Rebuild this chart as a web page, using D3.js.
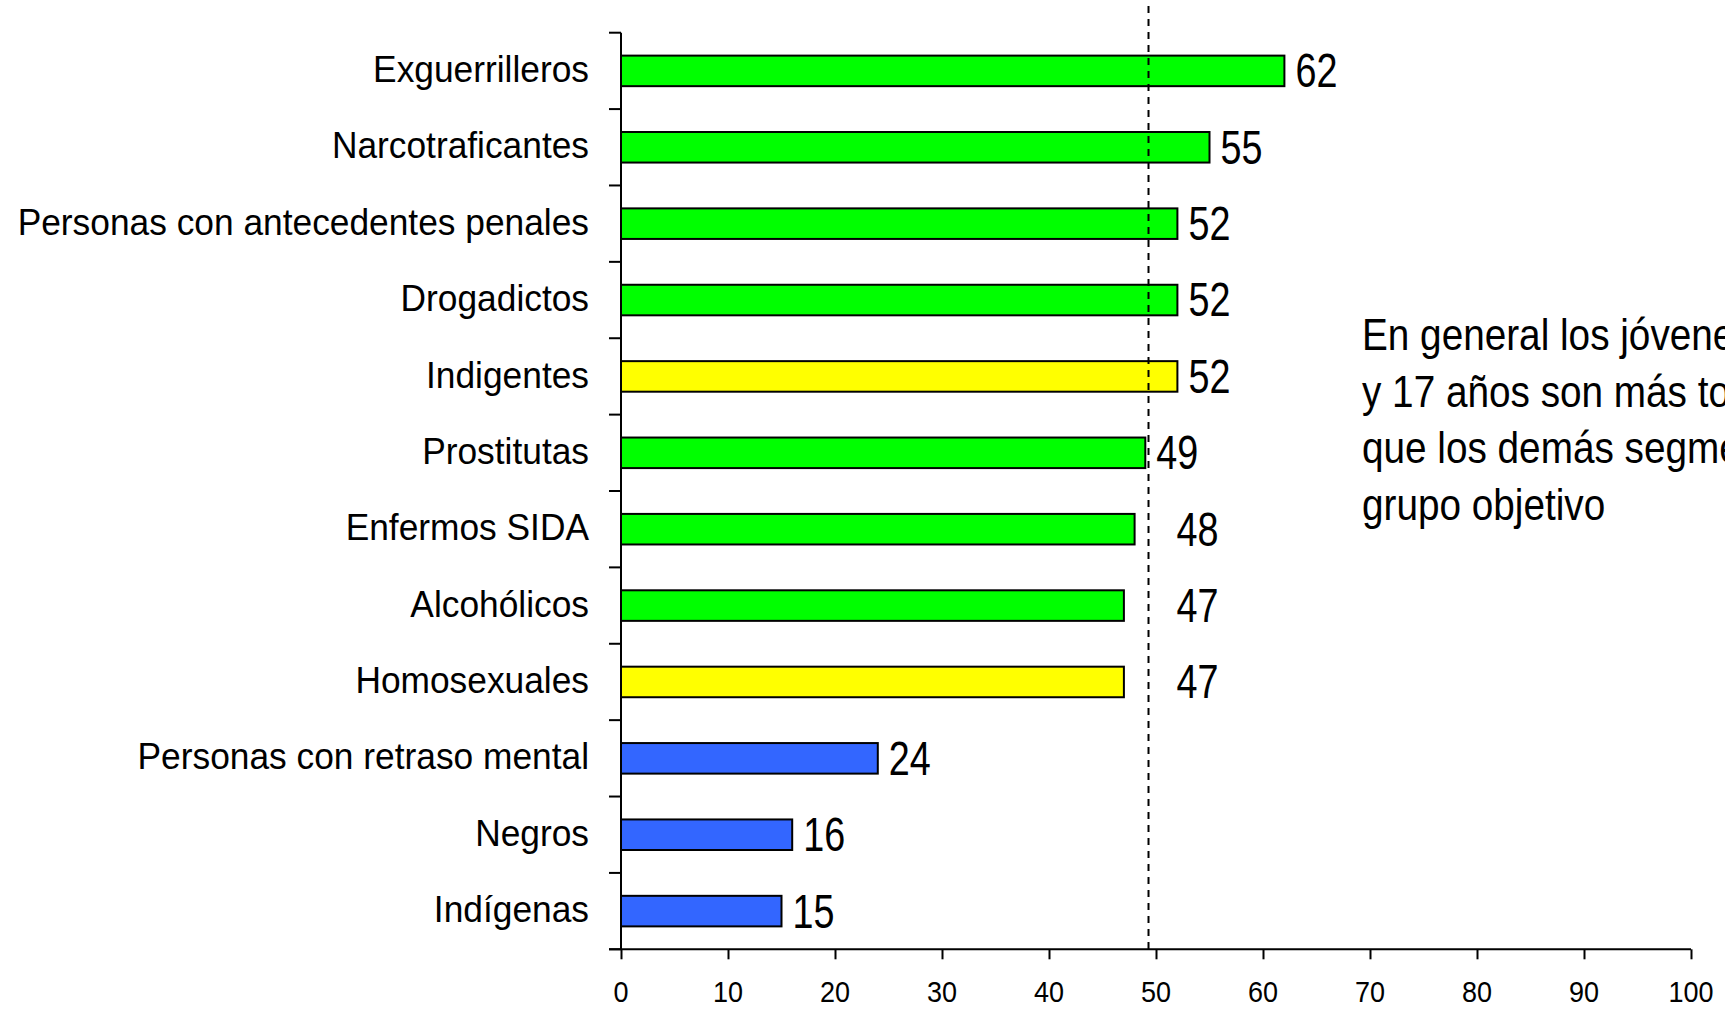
<!DOCTYPE html>
<html>
<head>
<meta charset="utf-8">
<script src="https://cdn.jsdelivr.net/npm/d3@7"></script>
<style>
  html, body { margin: 0; padding: 0; background: #fff; overflow: hidden; }
  svg { display: block; font-family: "Liberation Sans", Arial, sans-serif; }
</style>
</head>
<body>
<svg id="chart" width="1725" height="1009"></svg>
<script>
// datos
const categorias = [
  "Exguerrilleros", "Narcotraficantes", "Personas con antecedentes penales",
  "Drogadictos", "Indigentes", "Prostitutas", "Enfermos SIDA", "Alcohólicos",
  "Homosexuales", "Personas con retraso mental", "Negros", "Indígenas"
];
const valores = [62, 55, 52, 52, 52, 49, 48, 47, 47, 24, 16, 15];
const grupos = ["verde", "verde", "verde", "verde", "amarillo", "verde", "verde", "verde",
                "amarillo", "azul", "azul", "azul"];
const xTicks = [0, 10, 20, 30, 40, 50, 60, 70, 80, 90, 100];
const referencia = 49.3; // línea punteada
// el texto sale cortado por el borde derecho, como en el original
const nota = [
  "En general los jóvenes entre 12",
  "y 17 años son más tolerantes",
  "que los demás segmentos del",
  "grupo objetivo"
];

const colores = { verde: "#00ff00", amarillo: "#ffff00", azul: "#3366ff" };

const svg = d3.select("#chart");
const m = { left: 621, right: 1691, top: 32.7, bottom: 949.3 };

const x = d3.scaleLinear().domain([0, 100]).range([m.left, m.right]);
const y = d3.scaleBand().domain(categorias).range([m.top, m.bottom]).padding(0);
const barH = y.bandwidth() * 0.4;

// ejes
const gx = svg.append("g").attr("transform", `translate(0,${m.bottom})`)
  .call(d3.axisBottom(x).tickValues(xTicks).tickSize(10).tickPadding(0).tickFormat(d3.format("d")));
gx.select(".domain").remove();
gx.selectAll("line").attr("stroke", "#000").attr("stroke-width", 2);
gx.selectAll("text").remove();
svg.append("line").attr("x1", m.left - 12).attr("x2", m.right).attr("y1", m.bottom).attr("y2", m.bottom)
  .attr("stroke", "#000").attr("stroke-width", 2);

svg.append("g").selectAll("text").data(xTicks).join("text")
  .attr("transform", t => `translate(${x(t)},1002) scale(0.9,1)`)
  .attr("text-anchor", "middle").attr("font-size", 30).attr("fill", "#000")
  .text(t => t);

// eje y: marcas en los límites de las bandas
const limites = categorias.map(c => y(c)).concat([m.bottom]);
svg.append("g").selectAll("line").data(limites).join("line")
  .attr("x1", m.left - 12).attr("x2", m.left).attr("y1", d => d).attr("y2", d => d)
  .attr("stroke", "#000").attr("stroke-width", 2);
svg.append("line").attr("x1", m.left).attr("x2", m.left).attr("y1", m.top).attr("y2", m.bottom)
  .attr("stroke", "#000").attr("stroke-width", 2);

// etiquetas de categoría
svg.append("g").selectAll("text").data(categorias).join("text")
  .attr("transform", d => `translate(589,${y(d) + y.bandwidth() / 2}) scale(0.955,1)`)
  .attr("dy", "0.3em").attr("text-anchor", "end").attr("font-size", 37).attr("fill", "#000")
  .text(d => d);

// barras
const datos = categorias.map((c, i) => ({ c, v: valores[i], g: grupos[i] }));
svg.append("g").selectAll("rect").data(datos).join("rect")
  .attr("x", x(0))
  .attr("y", d => y(d.c) + (y.bandwidth() - barH) / 2)
  .attr("width", d => x(d.v) - x(0))
  .attr("height", barH)
  .attr("fill", d => colores[d.g])
  .attr("stroke", "#000").attr("stroke-width", 2);

// línea de referencia
svg.append("line")
  .attr("x1", x(referencia)).attr("x2", x(referencia)).attr("y1", 6).attr("y2", m.bottom)
  .attr("stroke", "#000").attr("stroke-width", 2).attr("stroke-dasharray", "7,6");

// valores: si chocan con la línea punteada se corren a la derecha
const xRef = x(referencia);
svg.append("g").selectAll("text").data(datos).join("text")
  .attr("transform", d => {
    let lx = x(d.v) + 11;
    if (lx < xRef + 6 && lx + 40 > xRef) lx = xRef + 28;
    return `translate(${lx},${y(d.c) + y.bandwidth() / 2}) scale(0.77,1)`;
  })
  .attr("dy", "0.335em").attr("font-size", 49).attr("fill", "#000")
  .text(d => d.v);

// nota
svg.append("g").selectAll("text").data(nota).join("text")
  .attr("transform", (d, i) => `translate(1362,${350 + i * 56.7}) scale(0.88,1)`)
  .attr("font-size", 44).attr("fill", "#000")
  .text(d => d);
</script>
</body>
</html>
